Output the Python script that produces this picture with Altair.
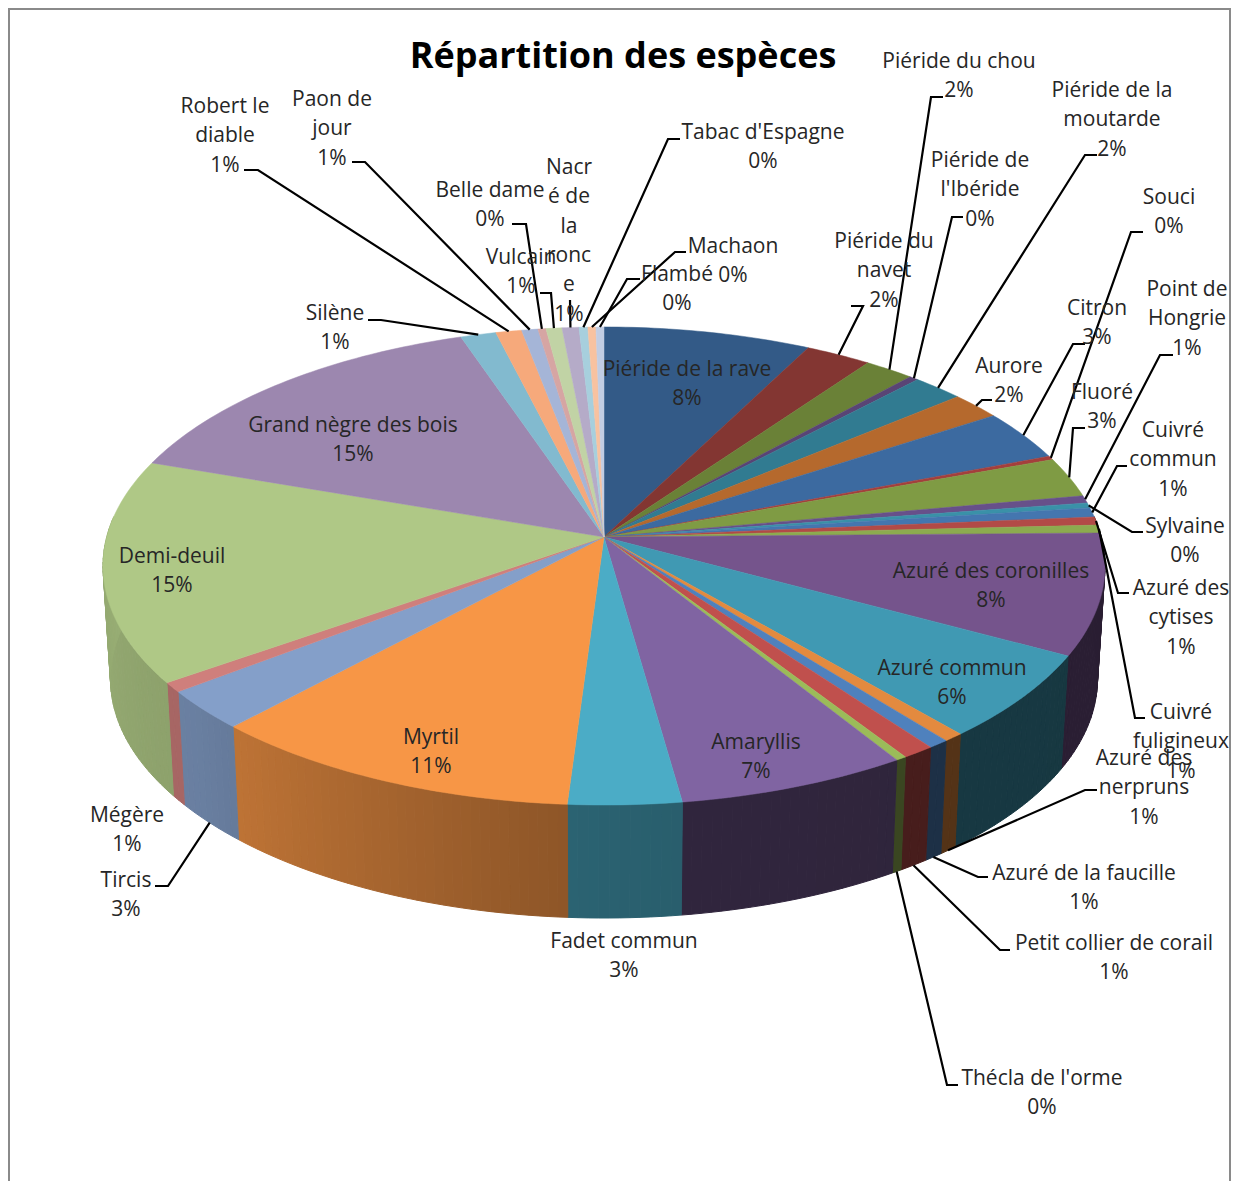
import math
import numpy as np
import pandas as pd
import altair as alt

# ---------------- data ----------------
species = ["Piéride de la rave", "Piéride du navet", "Piéride du chou", "Piéride de l'Ibéride",
           "Piéride de la moutarde", "Aurore", "Citron", "Souci", "Fluoré", "Point de Hongrie",
           "Sylvaine", "Cuivré commun", "Azuré des cytises", "Cuivré fuligineux",
           "Azuré des coronilles", "Azuré commun", "Azuré des nerpruns", "Azuré de la faucille",
           "Petit collier de corail", "Thécla de l'orme", "Amaryllis", "Fadet commun", "Myrtil",
           "Tircis", "Mégère", "Demi-deuil", "Grand nègre des bois", "Silène", "Robert le diable",
           "Paon de jour", "Belle dame", "Vulcain", "Nacré de la ronce", "Tabac d'Espagne",
           "Machaon", "Flambé"]
values = [7.52, 2.39, 1.80, 0.33, 1.86, 1.84, 3.44, 0.26, 2.70, 0.51, 0.35, 0.63, 0.56, 0.54,
          8.17, 5.83, 0.58, 0.60, 0.93, 0.31, 6.64, 3.25, 10.86, 2.69, 0.65, 15.07, 14.50, 1.29,
          0.94, 0.59, 0.29, 0.58, 0.61, 0.32, 0.29, 0.29]
percent = ["8%", "2%", "2%", "0%", "2%", "2%", "3%", "0%", "3%", "1%", "0%", "1%", "1%", "1%",
           "8%", "6%", "1%", "1%", "1%", "0%", "7%", "3%", "11%", "3%", "1%", "15%", "15%", "1%",
           "1%", "1%", "0%", "1%", "1%", "0%", "0%", "0%"]
colors = ["#335A87", "#833632", "#6A8137", "#594475", "#317B91", "#B5692D", "#3C6AA0", "#A43F3C",
          "#7F9B44", "#67508A", "#3A91A8", "#4476AF", "#B24A47", "#8CAB4F", "#75548C", "#4099B3",
          "#E38A3F", "#4F81BD", "#C0504D", "#9BBB59", "#8064A2", "#4BACC6", "#F79646", "#849FC9",
          "#CF7F7C", "#AFC886", "#9C87AF", "#82BACF", "#F6A97B", "#A5B5D7", "#D6A5A3", "#C1D3A5",
          "#B5ABC8", "#A7CFDD", "#F8C2A0", "#C2CDE3"]

# ---------------- label layout ----------------
label_lines = {
    "Piéride du navet": ["Piéride du", "navet"], "Piéride de l'Ibéride": ["Piéride de", "l'Ibéride"],
    "Piéride de la moutarde": ["Piéride de la", "moutarde"], "Point de Hongrie": ["Point de", "Hongrie"],
    "Cuivré commun": ["Cuivré", "commun"], "Azuré des cytises": ["Azuré des", "cytises"],
    "Cuivré fuligineux": ["Cuivré", "fuligineux"], "Azuré des nerpruns": ["Azuré des", "nerpruns"],
    "Robert le diable": ["Robert le", "diable"], "Paon de jour": ["Paon de", "jour"],
    "Nacré de la ronce": ["Nacr", "é de", "la", "ronc", "e"],
}
# species: (label centre x, first line y)
label_pos = {
    "Piéride de la rave": (687, 370), "Piéride du navet": (884, 242), "Piéride du chou": (959, 62),
    "Piéride de l'Ibéride": (980, 161), "Piéride de la moutarde": (1112, 91), "Aurore": (1009, 367),
    "Citron": (1097, 309), "Souci": (1169, 198), "Fluoré": (1102, 393), "Point de Hongrie": (1187, 290),
    "Sylvaine": (1185, 527), "Cuivré commun": (1173, 431), "Azuré des cytises": (1181, 589),
    "Cuivré fuligineux": (1181, 713), "Azuré des coronilles": (991, 572), "Azuré commun": (952, 669),
    "Azuré des nerpruns": (1144, 759), "Azuré de la faucille": (1084, 874),
    "Petit collier de corail": (1114, 944), "Thécla de l'orme": (1042, 1079), "Amaryllis": (756, 743),
    "Fadet commun": (624, 942), "Myrtil": (431, 738), "Tircis": (126, 881), "Mégère": (127, 816),
    "Demi-deuil": (172, 557), "Grand nègre des bois": (353, 426), "Silène": (335, 314),
    "Robert le diable": (225, 107), "Paon de jour": (332, 100), "Belle dame": (490, 191),
    "Vulcain": (521, 258), "Nacré de la ronce": (569, 168), "Tabac d'Espagne": (763, 133),
    "Machaon": (733, 247), "Flambé": (677, 275),
}
# species: bends of the leader line, from the slice outwards
leader_bends = {
    "Piéride du navet": [(863, 306), (851, 306)], "Piéride du chou": [(931, 97), (943, 97)],
    "Piéride de l'Ibéride": [(952, 217), (963, 217)], "Piéride de la moutarde": [(1085, 155), (1097, 155)],
    "Aurore": [(982, 400), (992, 400)], "Citron": [(1073, 344), (1085, 344)],
    "Souci": [(1131, 232), (1143, 232)], "Fluoré": [(1073, 428), (1085, 428)],
    "Point de Hongrie": [(1160, 355), (1173, 355)], "Sylvaine": [(1132, 532), (1143, 532)],
    "Cuivré commun": [(1117, 466), (1127, 466)], "Azuré des cytises": [(1118, 593), (1129, 593)],
    "Cuivré fuligineux": [(1135, 718), (1145, 718)], "Azuré des nerpruns": [(1085, 790), (1097, 790)],
    "Azuré de la faucille": [(978, 877), (988, 877)], "Petit collier de corail": [(1000, 950), (1010, 950)],
    "Thécla de l'orme": [(947, 1085), (958, 1085)], "Tircis": [(168, 886), (155, 886)],
    "Silène": [(381, 320), (368, 320)], "Robert le diable": [(258, 170), (244, 170)],
    "Paon de jour": [(365, 162), (352, 162)], "Belle dame": [(526, 224), (512, 224)],
    "Vulcain": [(551, 293), (540, 293)], "Nacré de la ronce": [(570, 300)],
    "Tabac d'Espagne": [(668, 139), (680, 139)], "Machaon": [(675, 252), (686, 252)],
    "Flambé": [(627, 279), (640, 279)],
}

# ---------------- tilted pie geometry ----------------
CX, CY, CY_LOW = 604, 537, 650
AX, AY, K, LOW_SCALE = 497.3, 235.5, 0.1213, 0.985
LINE = 29.3
FONT = "Open Sans"


def rim(theta, low=False):
    t = math.radians(theta)
    u, v = math.sin(t), -math.cos(t)
    d = 1 - K * v
    if low:
        return CX + LOW_SCALE * AX * u / d, CY_LOW + AY * v / d
    return CX + AX * u / d, CY + AY * v / d


def side_color(hex_color, theta):
    f = float(np.interp(theta, [85, 172.03, 172.04, 184.6, 228.6, 275],
                        [0.36, 0.38, 0.55, 0.58, 0.8, 0.87]))
    rgb = [int(hex_color[i:i + 2], 16) for i in (1, 3, 5)]
    return "#%02x%02x%02x" % tuple(int(c * f) for c in rgb)


total = sum(values)
starts = [0.0]
for val in values:
    starts.append(starts[-1] + val / total * 360)

top_rows, side_rows = [], []
for i, col in enumerate(colors):
    a, b = starts[i], starts[i + 1]
    steps = max(2, int((b - a)) + 2)
    pts = [(CX, CY)] + [rim(a + (b - a) * s / steps) for s in range(steps + 1)]
    for j, (x, y) in enumerate(pts):
        top_rows.append({"id": i, "i": j, "x": x, "y": y, "c": col})
    lo, hi = max(a, 85.0), min(b, 275.0)
    if hi <= lo:
        continue
    n = max(1, int(hi - lo))
    for s in range(n):
        t0, t1 = lo + (hi - lo) * s / n, lo + (hi - lo) * (s + 1) / n
        quad = [rim(t0), rim(t1), rim(t1, True), rim(t0, True)]
        sid = "%d_%d" % (i, s)
        c = side_color(col, (t0 + t1) / 2)
        for j, (x, y) in enumerate(quad):
            side_rows.append({"id": sid, "i": j, "x": x, "y": y, "c": c})

leader_rows = []
for i, name in enumerate(species):
    if name not in leader_bends:
        continue
    mid = (starts[i] + starts[i + 1]) / 2
    path = [rim(mid, 100 < mid < 260)] + leader_bends[name]
    for j, (x, y) in enumerate(path):
        leader_rows.append({"id": name, "i": j, "x": x, "y": y})

label_rows = []
for i, name in enumerate(species):
    lines = label_lines.get(name, [name]) + [percent[i]]
    cx, y0 = label_pos[name]
    label_rows.append({"x": cx, "y": y0, "t": "\n".join(lines)})

frame_rows = [{"i": 0, "x": 9, "y": 1181}, {"i": 1, "x": 9, "y": 9},
              {"i": 2, "x": 1230, "y": 9}, {"i": 3, "x": 1230, "y": 1181}]
title_rows = [{"x": 623, "y": 57, "t": "Répartition des espèces"}]

xs = alt.Scale(domain=[8, 1231], range=[0, 1223])
ys = alt.Scale(domain=[8, 1181], range=[0, 1173])
X = alt.X("x:Q", scale=xs, axis=None)
Y = alt.Y("y:Q", scale=ys, axis=None)


def polys(rows, width):
    return alt.Chart(pd.DataFrame(rows)).mark_line(
        filled=True, interpolate="linear-closed", strokeWidth=width
    ).encode(x=X, y=Y, detail="id:N", order="i:Q",
             fill=alt.Fill("c:N", scale=None, legend=None),
             stroke=alt.Stroke("c:N", scale=None, legend=None))


frame = alt.Chart(pd.DataFrame(frame_rows)).mark_line(color="#8a8a8a", strokeWidth=2).encode(x=X, y=Y, order="i:Q")
leaders = alt.Chart(pd.DataFrame(leader_rows)).mark_line(color="#000000", strokeWidth=2.2).encode(
    x=X, y=Y, detail="id:N", order="i:Q")
labels = alt.Chart(pd.DataFrame(label_rows)).mark_text(
    font=FONT, fontSize=21, color="#262626", lineBreak="\n", lineHeight=LINE, align="center", baseline="middle"
).encode(x=X, y=Y, text="t:N")
title = alt.Chart(pd.DataFrame(title_rows)).mark_text(
    font=FONT, fontSize=36, fontWeight="bold", color="#000000", align="center", baseline="middle"
).encode(x=X, y=Y, text="t:N")

chart = alt.layer(frame, polys(side_rows, 1.0), polys(top_rows, 0.5), leaders, labels, title).properties(
    width=1223, height=1173, padding=0, autosize=alt.AutoSizeParams(type="none")
).configure_view(stroke=None)

chart.save("out.html", embed_options={"renderer": "svg", "actions": False})
